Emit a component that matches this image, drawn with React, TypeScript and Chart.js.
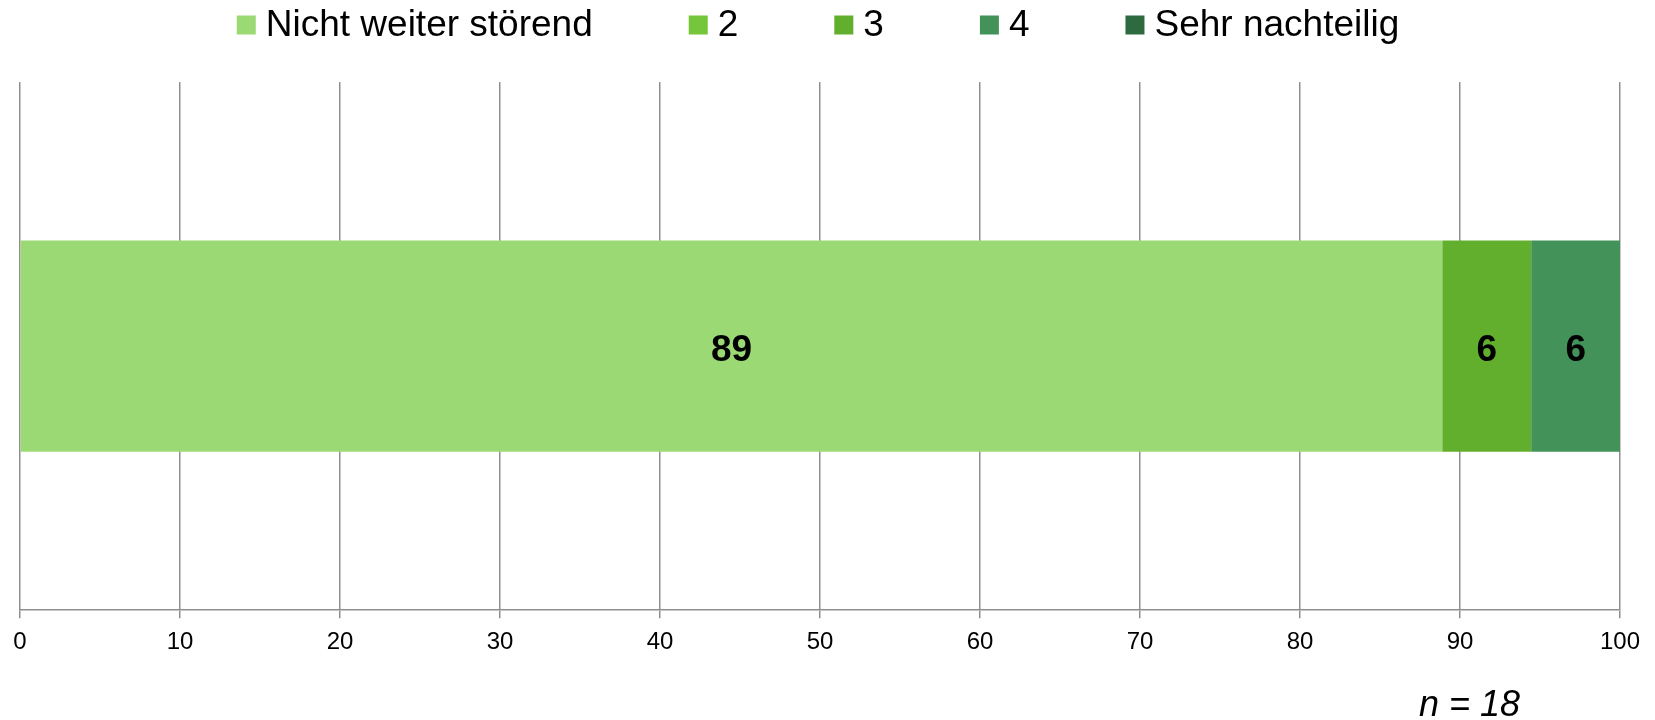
import React, { useEffect, useRef } from "react";
import { Chart, registerables } from "chart.js";

Chart.register(...registerables);

const categories = [""];
const seriesLabels = ["Nicht weiter störend", "2", "3", "4", "Sehr nachteilig"];
const seriesColors = ["#9BD975", "#76C63C", "#62AF2E", "#43925A", "#2E6A40"];
const valuesNichtStoerend = [88.89];
const values2 = [0];
const values3 = [5.56];
const values4 = [5.56];
const valuesSehrNachteilig = [0];
const xTicks = [0, 10, 20, 30, 40, 50, 60, 70, 80, 90, 100];
const sampleNote = "n = 18";

const FONT = "'Liberation Sans', Arial, sans-serif";

const seriesValues = [valuesNichtStoerend, values2, values3, values4, valuesSehrNachteilig];

const customPlugin = {
  id: "customDecor",
  afterDatasetsDraw(chart: any) {
    const ctx = chart.ctx;
    ctx.save();
    ctx.fillStyle = "#000";
    ctx.font = `bold 37px ${FONT}`;
    ctx.textAlign = "center";
    ctx.textBaseline = "middle";
    chart.data.datasets.forEach((ds: any, di: number) => {
      const meta = chart.getDatasetMeta(di);
      meta.data.forEach((el: any, i: number) => {
        const v = ds.data[i];
        if (!v) return;
        const x = (el.x + el.base) / 2;
        ctx.fillText(String(Math.round(v)), x, el.y + 5);
      });
    });
    ctx.restore();
  },
  afterDraw(chart: any) {
    const ctx = chart.ctx;
    const area = chart.chartArea;
    ctx.save();
    // legend
    ctx.font = `37px ${FONT}`;
    ctx.textBaseline = "middle";
    ctx.textAlign = "left";
    const box = 19;
    const boxGap = 10;
    const itemGap = 96;
    const widths = seriesLabels.map((l) => box + boxGap + ctx.measureText(l).width);
    const total = widths.reduce((a, b) => a + b, 0) + itemGap * (widths.length - 1);
    let x = 818 - total / 2;
    const cy = 25;
    seriesLabels.forEach((l, i) => {
      ctx.fillStyle = seriesColors[i];
      ctx.fillRect(x, cy - box / 2, box, box);
      ctx.fillStyle = "#000";
      ctx.fillText(l, x + box + boxGap, cy + 1);
      x += widths[i] + itemGap;
    });
    // n note
    ctx.font = `italic 36px ${FONT}`;
    ctx.textAlign = "right";
    ctx.fillText(sampleNote, area.right - 100, area.bottom + 96);
    ctx.restore();
  },
};

export default function App() {
  const ref = useRef<HTMLCanvasElement | null>(null);
  useEffect(() => {
    if (!ref.current) return;
    const chart = new Chart(ref.current, {
      type: "bar",
      data: {
        labels: categories,
        datasets: seriesLabels.map((label, i) => ({
          label,
          data: seriesValues[i],
          backgroundColor: seriesColors[i],
          borderWidth: 0,
          barPercentage: 0.4,
          categoryPercentage: 1,
        })),
      },
      options: {
        indexAxis: "y",
        animation: false,
        responsive: true,
        maintainAspectRatio: false,
        layout: { padding: { left: 20, right: 35, top: 82, bottom: 53 } },
        plugins: {
          legend: { display: false },
          tooltip: { enabled: false },
          title: { display: false },
        },
        scales: {
          x: {
            stacked: true,
            min: 0,
            max: 100,
            afterBuildTicks: (scale: any) => {
              scale.ticks = xTicks.map((v) => ({ value: v }));
            },
            grid: {
              color: "#8f8f8f",
              lineWidth: 1.5,
              tickLength: 8,
              drawTicks: true,
            },
            border: { color: "#8f8f8f", width: 1.5 },
            ticks: {
              color: "#000",
              font: { family: FONT, size: 24 },
              padding: 10,
              maxRotation: 0,
              autoSkip: false,
            },
          },
          y: {
            stacked: true,
            display: false,
          },
        },
      },
      plugins: [customPlugin],
    });
    return () => chart.destroy();
  }, []);
  return (
    <div style={{ position: "fixed", left: 0, top: 0, width: "1655px", height: "720px", background: "#fff" }}>
      <canvas ref={ref} />
    </div>
  );
}
